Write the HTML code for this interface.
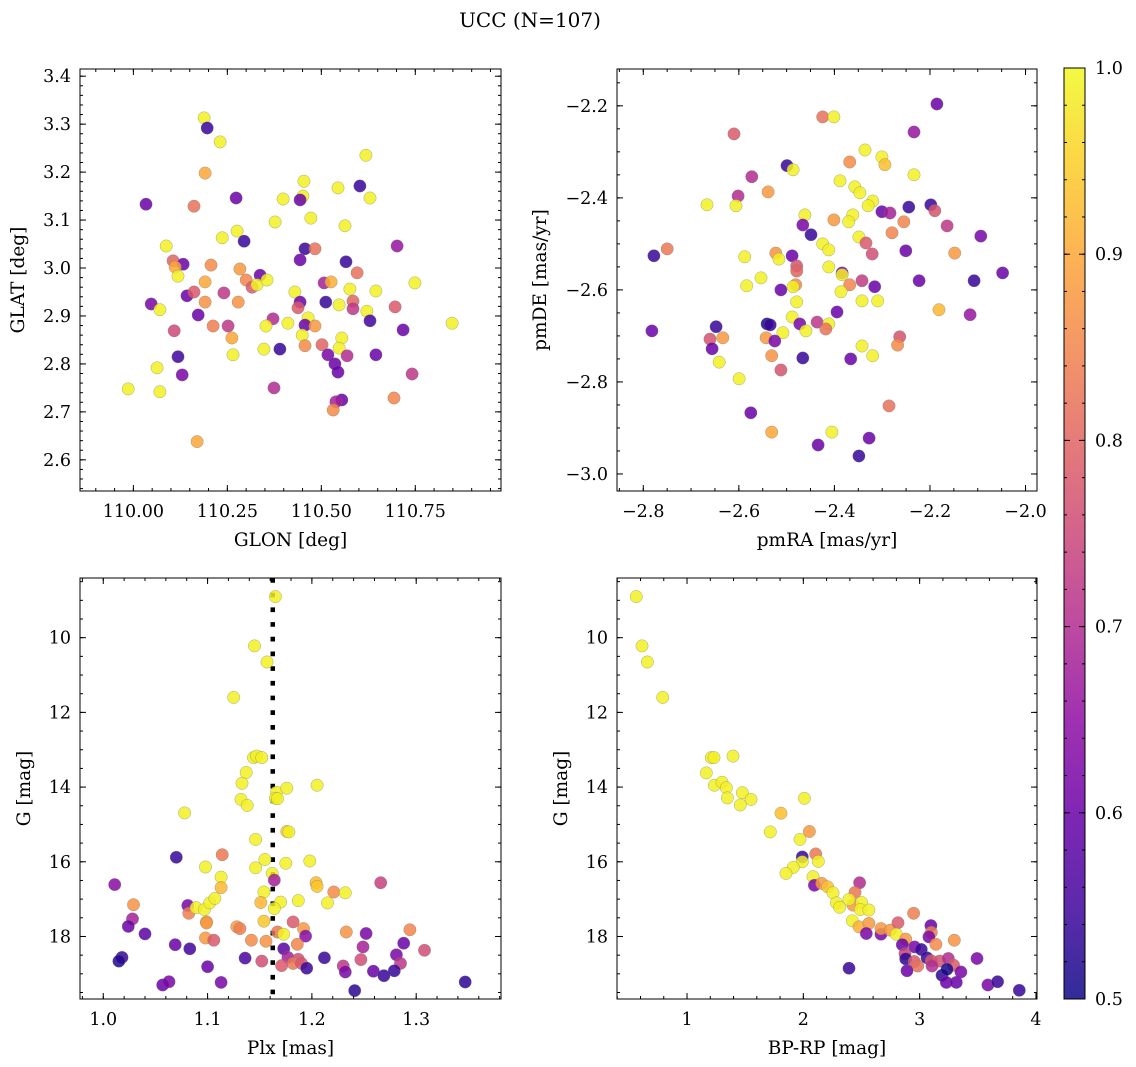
<!DOCTYPE html>
<html><head><meta charset="utf-8">
<style>
html,body{margin:0;padding:0;background:#fff;}
svg{display:block;font-family:"DejaVu Serif","Liberation Serif",serif;}
</style></head>
<body>
<svg id="fig" width="1136" height="1067" viewBox="0 0 1136 1067" xmlns="http://www.w3.org/2000/svg">
<defs>
<linearGradient id="plasmaGrad" x1="0" y1="1" x2="0" y2="0">
<stop offset="0" stop-color="#0d0887"/><stop offset="0.1" stop-color="#41049d"/><stop offset="0.2" stop-color="#6a00a8"/><stop offset="0.3" stop-color="#8f0da4"/><stop offset="0.4" stop-color="#b12a90"/><stop offset="0.5" stop-color="#cc4778"/><stop offset="0.6" stop-color="#e16462"/><stop offset="0.7" stop-color="#f2844b"/><stop offset="0.8" stop-color="#fca636"/><stop offset="0.9" stop-color="#fcce25"/><stop offset="1" stop-color="#f0f921"/>
</linearGradient>
</defs>
<text x="530" y="27" text-anchor="middle" font-size="20">UCC (N=107)</text>
</svg>
<script>
// ---------- Panel 1: GLON vs GLAT ----------
const glon1 = [110.1881,110.1964,110.2307,110.1909,110.0335,110.1613,110.2732,110.4537,110.4509,110.4435,110.3982,110.4722,110.3769,110.5444,110.6185,110.6027,110.6296,110.5629,110.2760,110.2362,110.2945,110.0872,110.4565,110.4833,110.4435,110.7017,110.5657,110.5953,110.7490,110.1057,110.1326,110.1113,110.1187,110.2066,110.2834,110.3371,110.3001,110.3158,110.3288,110.3556,110.1909,110.5074,110.5259,110.4297,110.5759,110.6453,110.1427,110.1613,110.2408,110.0474,110.0706,110.1909,110.2788,110.4435,110.4380,110.5120,110.5472,110.5842,110.5842,110.6212,110.6296,110.6962,110.8480,110.7175,110.1724,110.1085,110.2122,110.2520,110.2621,110.3714,110.3528,110.4111,110.4648,110.4565,110.4833,110.4491,110.5546,110.5018,110.4565,110.5472,110.5176,110.5685,110.6453,110.5361,110.5444,110.3899,110.3473,110.2649,110.1187,110.0632,110.1298,110.7416,109.9863,110.0706,110.3741,110.6934,110.5546,110.5389,110.5315,110.1696];
const glat1 = [3.313,3.292,3.263,3.198,3.133,3.129,3.146,3.181,3.150,3.142,3.144,3.104,3.096,3.167,3.235,3.171,3.146,3.088,3.077,3.063,3.056,3.046,3.040,3.040,3.017,3.046,3.013,2.990,2.969,3.015,3.008,3.002,2.983,3.006,2.998,2.985,2.975,2.960,2.965,2.975,2.971,2.969,2.971,2.950,2.956,2.952,2.942,2.950,2.948,2.925,2.913,2.929,2.929,2.929,2.917,2.929,2.923,2.931,2.915,2.910,2.890,2.919,2.885,2.871,2.902,2.869,2.879,2.879,2.854,2.894,2.879,2.885,2.896,2.881,2.879,2.860,2.854,2.840,2.838,2.833,2.819,2.817,2.819,2.800,2.783,2.831,2.831,2.819,2.815,2.792,2.777,2.779,2.748,2.742,2.750,2.729,2.725,2.721,2.704,2.638];
const prob1 = [.99,.54,.99,.9,.6,.82,.6,.99,.99,.6,.99,.99,.99,.99,.99,.54,.99,.99,.99,.99,.54,.99,.54,.82,.6,.66,.54,.82,.99,.8,.6,.9,.99,.86,.88,.6,.85,.78,.99,.99,.9,.68,.91,.99,.99,.99,.6,.78,.72,.62,.99,.87,.87,.6,.78,.54,.99,.8,.72,.99,.55,.78,.99,.6,.6,.75,.84,.72,.9,.7,.99,.99,.99,.6,.88,.99,.99,.8,.86,.99,.62,.7,.6,.6,.6,.54,.99,.99,.55,.99,.62,.72,.99,.99,.7,.85,.6,.68,.86,.9];
// ---------- Panel 2: pmRA vs pmDE ----------
const pmra2 = [-2.1855,-2.4245,-2.4010,-2.6101,-2.2335,-2.3359,-2.3007,-2.2943,-2.3679,-2.4992,-2.4864,-2.2335,-2.5728,-2.3882,-2.3573,-2.3466,-2.3199,-2.3295,-2.5387,-2.6016,-2.6667,-2.6059,-2.3007,-2.2837,-2.2442,-2.1983,-2.1898,-2.4618,-2.4010,-2.3615,-2.3701,-2.2548,-2.2794,-2.1642,-2.0937,-2.4661,-2.4490,-2.3487,-2.3338,-2.3210,-2.4245,-2.4117,-2.2506,-2.1482,-2.7777,-2.7499,-2.5877,-2.5227,-2.5162,-2.4885,-2.4789,-2.4789,-2.4117,-2.3839,-2.3839,-2.5536,-2.5835,-2.4810,-2.4864,-2.5120,-2.3679,-2.3423,-2.3157,-2.3861,-2.2228,-2.1076,-2.0479,-2.4789,-2.3423,-2.3093,-2.3946,-2.1812,-2.1161,-2.4885,-2.4725,-2.4362,-2.4117,-2.4181,-2.5408,-2.5344,-2.5077,-2.4597,-2.7819,-2.6475,-2.6603,-2.6336,-2.6560,-2.5429,-2.5248,-2.2634,-2.2677,-2.3423,-2.3199,-2.6411,-2.5312,-2.4661,-2.3658,-2.5120,-2.5995,-2.2858,-2.5749,-2.5312,-2.4053,-2.4341,-2.3274,-2.3487];
const pmde2 = [-2.196,-2.224,-2.224,-2.261,-2.257,-2.296,-2.311,-2.328,-2.322,-2.330,-2.339,-2.350,-2.354,-2.363,-2.376,-2.389,-2.407,-2.417,-2.387,-2.396,-2.415,-2.417,-2.430,-2.433,-2.420,-2.415,-2.428,-2.437,-2.448,-2.437,-2.452,-2.452,-2.476,-2.461,-2.483,-2.459,-2.480,-2.485,-2.498,-2.522,-2.500,-2.513,-2.515,-2.520,-2.526,-2.511,-2.528,-2.520,-2.533,-2.526,-2.548,-2.559,-2.550,-2.563,-2.567,-2.574,-2.591,-2.589,-2.593,-2.600,-2.589,-2.580,-2.593,-2.604,-2.580,-2.580,-2.563,-2.626,-2.624,-2.624,-2.648,-2.643,-2.654,-2.659,-2.674,-2.670,-2.674,-2.685,-2.674,-2.676,-2.693,-2.689,-2.689,-2.680,-2.707,-2.704,-2.728,-2.704,-2.711,-2.702,-2.720,-2.722,-2.743,-2.757,-2.743,-2.748,-2.750,-2.774,-2.793,-2.852,-2.867,-2.909,-2.909,-2.937,-2.922,-2.961];
const prob2 = [.6,.82,.99,.78,.66,.99,.99,.93,.86,.54,.99,.99,.7,.99,.99,.99,.99,.99,.88,.7,.99,.99,.6,.68,.54,.54,.77,.99,.88,.99,.99,.85,.85,.72,.62,.62,.54,.99,.78,.76,.99,.99,.6,.88,.54,.83,.99,.87,.99,.6,.77,.8,.99,.62,.99,.99,.99,.86,.99,.6,.85,.73,.6,.99,.6,.54,.6,.99,.99,.99,.6,.92,.66,.99,.62,.72,.99,.82,.51,.54,.99,.99,.6,.54,.77,.88,.6,.88,.62,.77,.86,.99,.99,.99,.87,.54,.6,.77,.99,.82,.6,.9,.99,.6,.6,.54];
// ---------- Panel 3: Plx vs G ----------
const plx3 = [1.165,1.145,1.157,1.125,1.144,1.147,1.152,1.137,1.133,1.132,1.138,1.166,1.165,1.167,1.176,1.205,1.078,1.176,1.178,1.146,1.070,1.114,1.098,1.155,1.146,1.175,1.198,1.162,1.164,1.113,1.113,1.011,1.204,1.205,1.266,1.221,1.232,1.154,1.151,1.170,1.187,1.215,1.029,1.081,1.082,1.089,1.097,1.102,1.107,1.164,1.028,1.024,1.040,1.099,1.099,1.154,1.128,1.131,1.182,1.192,1.194,1.167,1.173,1.233,1.252,1.294,1.098,1.106,1.142,1.156,1.186,1.069,1.083,1.173,1.249,1.288,1.308,1.281,1.018,1.015,1.136,1.152,1.177,1.187,1.182,1.190,1.171,1.195,1.212,1.230,1.232,1.247,1.285,1.259,1.269,1.279,1.100,1.113,1.057,1.063,1.241,1.347];
const gmag3 = [8.90,10.22,10.65,11.60,13.21,13.17,13.21,13.61,13.90,14.33,14.49,14.14,14.30,14.31,14.03,13.95,14.69,15.19,15.20,15.40,15.88,15.81,16.14,15.94,16.16,16.04,15.98,16.31,16.49,16.41,16.69,16.61,16.56,16.66,16.56,16.81,16.83,16.81,17.09,17.08,17.04,17.10,17.15,17.17,17.38,17.23,17.28,17.10,16.98,17.25,17.53,17.73,17.93,17.61,17.64,17.59,17.74,17.79,17.61,17.79,17.99,17.88,17.94,17.88,17.92,17.82,18.04,18.10,18.10,18.13,18.21,18.22,18.33,18.33,18.28,18.18,18.37,18.49,18.56,18.66,18.58,18.66,18.56,18.61,18.72,18.72,18.78,18.85,18.57,18.79,18.95,18.62,18.72,18.93,19.05,18.92,18.81,19.23,19.30,19.21,19.45,19.22];
const prob3 = [.99,.99,.99,.99,.99,.99,.99,.99,.99,.99,.99,.99,.99,.99,.99,.99,.99,.94,.99,.99,.54,.83,.99,.99,.99,.99,.99,.99,.68,.99,.92,.64,.92,.94,.74,.86,.99,.99,.92,.99,.99,.99,.87,.62,.84,.99,.99,.99,.99,.99,.68,.6,.58,.88,.88,.94,.88,.84,.78,.88,.64,.83,.99,.87,.62,.85,.88,.78,.86,.87,.85,.6,.55,.58,.68,.6,.76,.62,.54,.52,.56,.76,.68,.76,.83,.78,.78,.54,.54,.72,.62,.76,.72,.6,.54,.54,.6,.62,.6,.62,.53,.53];
const plxRef = 1.1625;
// ---------- Panel 4: BP-RP vs G ----------
const bprp4 = [0.564,0.613,0.659,0.791,1.209,1.232,1.395,1.166,1.235,1.301,1.338,1.347,1.476,1.550,1.458,1.808,2.009,1.716,1.971,2.052,2.106,1.991,1.991,2.129,1.914,1.851,2.083,2.095,2.158,2.209,2.255,2.284,2.312,2.484,2.444,2.427,2.393,2.501,2.490,2.564,2.421,2.479,2.564,2.541,2.668,2.668,2.748,2.814,2.799,2.948,2.880,2.851,2.957,3.014,3.097,3.100,3.080,3.140,3.298,3.493,2.874,2.880,2.954,2.983,2.891,3.063,3.100,3.172,3.246,3.292,3.106,3.192,3.235,3.229,3.315,3.355,3.587,3.670,3.857,2.393];
const gmag4 = [8.90,10.22,10.65,11.60,13.21,13.21,13.17,13.62,13.95,13.87,14.02,14.29,14.15,14.33,14.48,14.70,14.30,15.20,15.40,15.19,15.79,15.87,16.00,15.99,16.15,16.31,16.40,16.63,16.58,16.67,16.83,17.10,17.22,16.56,16.82,17.16,17.01,17.09,17.28,17.29,17.58,17.74,17.65,17.92,17.94,17.79,17.83,17.63,17.94,17.38,18.07,18.22,18.28,18.35,17.71,17.89,18.01,18.21,18.10,18.59,18.46,18.60,18.67,18.79,18.92,18.57,18.65,18.66,18.59,18.77,18.79,19.04,18.88,19.23,19.23,18.95,19.30,19.21,19.44,18.85];
const prob4 = [.99,.99,.99,.99,.99,.99,.99,.99,.99,.99,.99,.99,.99,.99,.99,.93,.99,.99,.99,.88,.83,.54,.99,.99,.99,.99,.99,.62,.88,.93,.99,.99,.99,.7,.83,.88,.99,.99,.99,.99,.99,.91,.88,.62,.62,.88,.88,.78,.99,.84,.88,.6,.62,.54,.6,.84,.62,.86,.87,.62,.74,.53,.78,.82,.6,.54,.78,.77,.7,.78,.7,.53,.51,.6,.6,.62,.62,.54,.54,.54];
// ---------- Colorbar ----------
const cbTicks = [0.5,0.6,0.7,0.8,0.9,1.0];
const cbMin = 0.5, cbMax = 1.0;

const NS = "http://www.w3.org/2000/svg";
const svg = document.getElementById('fig');
const plasma = ["#0d0887","#41049d","#6a00a8","#8f0da4","#b12a90","#cc4778","#e16462","#f2844b","#fca636","#fcce25","#f0f921"];
function hex(h){return [parseInt(h.substr(1,2),16),parseInt(h.substr(3,2),16),parseInt(h.substr(5,2),16)];}
function cmap(v){
  let t=(v-cbMin)/(cbMax-cbMin); t=Math.max(0,Math.min(1,t));
  const s=t*10, i=Math.min(9,Math.floor(s)), f=s-i;
  const a=hex(plasma[i]), b=hex(plasma[i+1]);
  return 'rgb('+a.map((c,k)=>Math.round(c+(b[k]-c)*f)).join(',')+')';
}
function mk(tag, attrs, parent){
  const e=document.createElementNS(NS,tag);
  for(const k in attrs) e.setAttribute(k,attrs[k]);
  (parent||svg).appendChild(e); return e;
}
function fmt(v,d){ const s=Math.abs(v).toFixed(d); return (v<-1e-9?'\u2212':'')+s; }
const TICKFS=17.5, LABFS=18.5;

function panel(cfg){
  const g=mk('g',{});
  
  
  const {x0,x1,y0,y1}=cfg;
  const sx=v=>x0+(v-cfg.xd[0])/(cfg.xd[1]-cfg.xd[0])*(x1-x0);
  const sy=v=>cfg.yInv ? y0+(v-cfg.yd[0])/(cfg.yd[1]-cfg.yd[0])*(y1-y0)
                       : y1-(v-cfg.yd[0])/(cfg.yd[1]-cfg.yd[0])*(y1-y0);
  const clip=mk('clipPath',{id:'clip-'+cfg.name},g);
  mk('rect',{x:x0,y:y0,width:x1-x0,height:y1-y0},clip);
  const pts=mk('g',{'clip-path':'url(#clip-'+cfg.name+')'},g);
  
  
  if(cfg.extra) cfg.extra(pts,sx,sy);
  for(let i=0;i<cfg.xs.length;i++){
    const c=mk('circle',{cx:sx(cfg.xs[i]).toFixed(1),cy:sy(cfg.ys[i]).toFixed(1),r:6.2,fill:cmap(cfg.cs[i]),'fill-opacity':0.85,stroke:'#777','stroke-opacity':0.6,'stroke-width':0.5},pts);
    
    
  }
  const tk=mk('g',{stroke:'#000','stroke-width':1},g);
  function ticksX(vals,len){ vals.forEach(v=>{const x=sx(v); if(x<x0-0.5||x>x1+0.5)return;
    mk('line',{x1:x,x2:x,y1:y1,y2:y1-len},tk); mk('line',{x1:x,x2:x,y1:y0,y2:y0+len},tk);});}
  function ticksY(vals,len){ vals.forEach(v=>{const y=sy(v); if(y<y0-0.5||y>y1+0.5)return;
    mk('line',{x1:x0,x2:x0+len,y1:y,y2:y},tk); mk('line',{x1:x1,x2:x1-len,y1:y,y2:y},tk);});}
  ticksX(cfg.xMinor,3); ticksX(cfg.xMajor,6); ticksY(cfg.yMinor,3); ticksY(cfg.yMajor,6);
  mk('rect',{x:x0,y:y0,width:x1-x0,height:y1-y0,fill:'none',stroke:'#000','stroke-width':1},g);
  cfg.xMajor.forEach(v=>{const x=sx(v); if(x<x0-0.5||x>x1+0.5)return;
    const t=mk('text',{x:x,y:y1+26,'text-anchor':'middle','font-size':TICKFS},g); t.textContent=fmt(v,cfg.xDec);
     });
  cfg.yMajor.forEach(v=>{const y=sy(v); if(y<y0-0.5||y>y1+0.5)return;
    const t=mk('text',{x:x0-9,y:y+6,'text-anchor':'end','font-size':TICKFS},g); t.textContent=fmt(v,cfg.yDec);
     });
  const xl=mk('text',{x:(x0+x1)/2,y:y1+55,'text-anchor':'middle','font-size':LABFS},g); xl.textContent=cfg.xlabel;
   
  const yl=mk('text',{x:0,y:0,'text-anchor':'middle','font-size':LABFS,transform:'translate('+cfg.ylx+','+((y0+y1)/2)+') rotate(-90)'},g); yl.textContent=cfg.ylabel;
   
}
function range(a,b,s){const r=[];for(let v=a;v<=b+s/1000;v+=s)r.push(Math.round(v*1e6)/1e6);return r;}

panel({name:'glon-glat-panel',x0:80,x1:501,y0:69,y1:491,xd:[109.858,110.978],yd:[2.535,3.415],
  xs:glon1,ys:glat1,cs:prob1,xMajor:[110,110.25,110.5,110.75],xMinor:range(109.85,111.0,0.05),xDec:2,
  yMajor:range(2.6,3.4,0.1),yMinor:range(2.54,3.41,0.02),yDec:1,xlabel:'GLON [deg]',ylabel:'GLAT [deg]',ylx:24});
panel({name:'pm-panel',x0:617,x1:1037,y0:69,y1:491,xd:[-2.855,-1.976],yd:[-3.037,-2.120],
  xs:pmra2,ys:pmde2,cs:prob2,xMajor:range(-2.8,-2.0,0.2),xMinor:range(-2.85,-2.0,0.05),xDec:1,
  yMajor:range(-3.0,-2.2,0.2),yMinor:range(-3.0,-2.15,0.05),yDec:1,xlabel:'pmRA [mas/yr]',ylabel:'pmDE [mas/yr]',ylx:546});
panel({name:'plx-g-panel',x0:80,x1:501,y0:578,y1:999,xd:[0.9777,1.3813],yd:[8.402,19.674],yInv:true,
  xs:plx3,ys:gmag3,cs:prob3,xMajor:[1.0,1.1,1.2,1.3],xMinor:range(0.98,1.38,0.02),xDec:1,
  yMajor:[10,12,14,16,18],yMinor:range(8.5,19.5,0.5),yDec:0,xlabel:'Plx [mas]',ylabel:'G [mag]',ylx:30,
  extra:(gp,sx,sy)=>{const l=mk('line',{x1:sx(plxRef),x2:sx(plxRef),y1:578,y2:999,stroke:'#000','stroke-width':4.5,'stroke-dasharray':'4.7 10'},gp);
     }});
panel({name:'cmd-panel',x0:617,x1:1037,y0:578,y1:999,xd:[0.398,4.009],yd:[8.402,19.674],yInv:true,
  xs:bprp4,ys:gmag4,cs:prob4,xMajor:[1,2,3,4],xMinor:range(0.4,4.0,0.2),xDec:0,
  yMajor:[10,12,14,16,18],yMinor:range(8.5,19.5,0.5),yDec:0,xlabel:'BP-RP [mag]',ylabel:'G [mag]',ylx:567});

const cb=mk('g',{});


const cbx0=1064,cbx1=1085,cby0=68,cby1=999;
mk('rect',{x:cbx0,y:cby0,width:cbx1-cbx0,height:cby1-cby0,fill:'url(#plasmaGrad)','fill-opacity':0.85},cb);
mk('rect',{x:cbx0,y:cby0,width:cbx1-cbx0,height:cby1-cby0,fill:'none',stroke:'#000','stroke-width':1},cb);
const cy=v=>cby1-(v-cbMin)/(cbMax-cbMin)*(cby1-cby0);
range(0.52,0.98,0.02).forEach(v=>{mk('line',{x1:cbx1,x2:cbx1-3,y1:cy(v),y2:cy(v),stroke:'#000'},cb);mk('line',{x1:cbx0,x2:cbx0+3,y1:cy(v),y2:cy(v),stroke:'#000'},cb);});
cbTicks.forEach(v=>{
  mk('line',{x1:cbx1,x2:cbx1-6,y1:cy(v),y2:cy(v),stroke:'#000'},cb);
  mk('line',{x1:cbx0,x2:cbx0+6,y1:cy(v),y2:cy(v),stroke:'#000'},cb);
  const t=mk('text',{x:cbx1+10,y:cy(v)+6,'font-size':TICKFS},cb); t.textContent=v.toFixed(1);
   
});
</script>
</body></html>
